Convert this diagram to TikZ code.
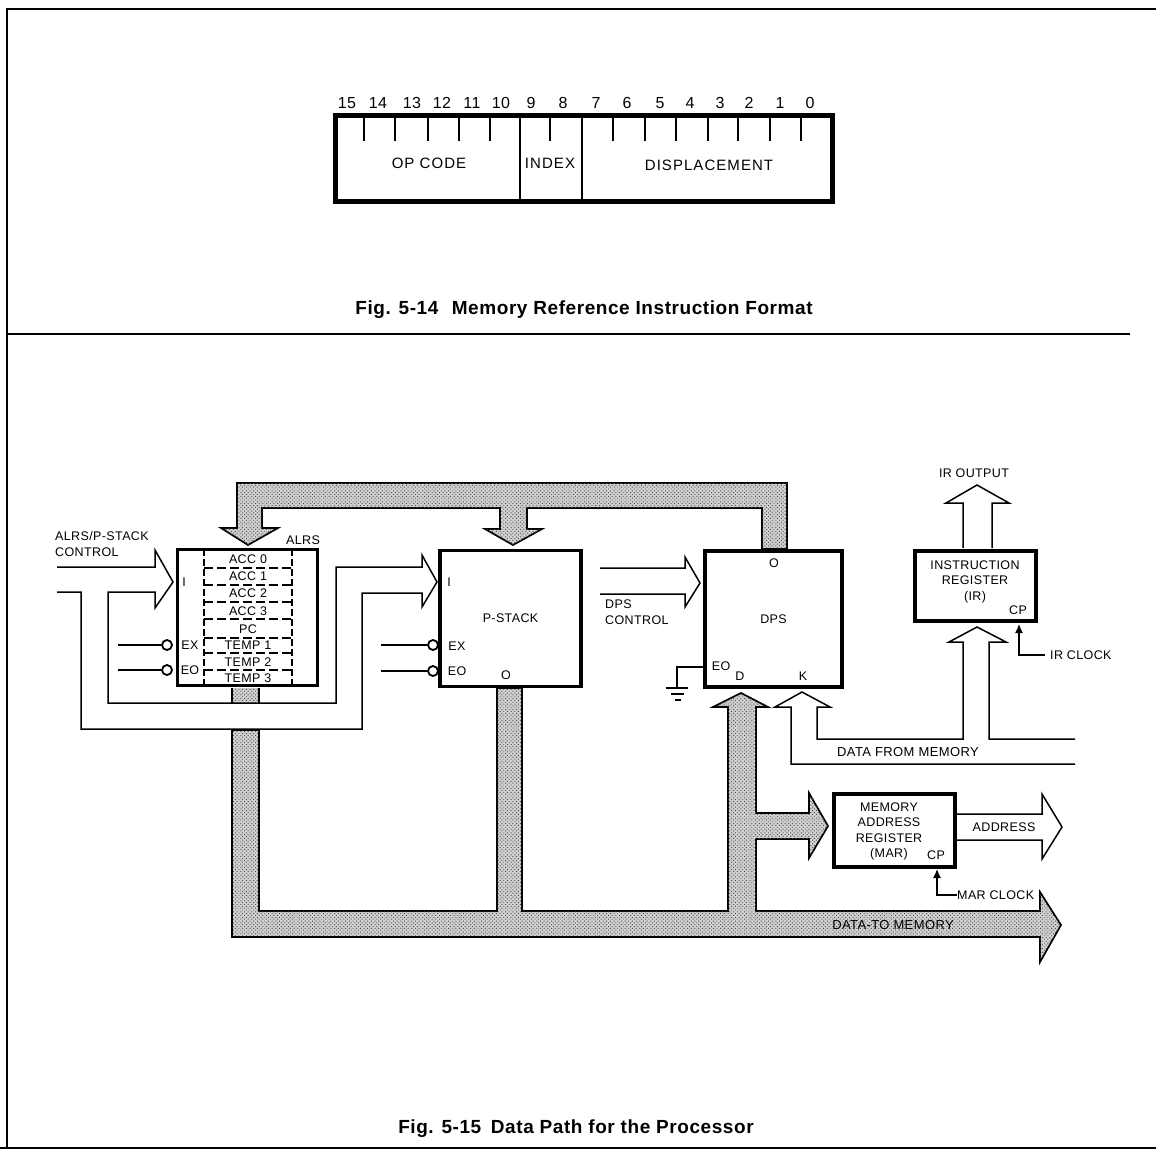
\documentclass[tikz,border=0pt]{standalone}
\usepackage{fontspec}
\setmainfont[LetterSpace=3]{Liberation Sans}
\usetikzlibrary{arrows.meta,patterns.meta}

\begin{document}
\begin{tikzpicture}[x=1pt,y=-1pt,
  every node/.style={font=\fontsize{12.5}{15.5}\selectfont,inner sep=0pt,align=center},
  regbox/.style={draw,line width=3.8pt,fill=white},
  bus/.style={draw,line width=1.7pt,line join=miter,fill=black!18,
    postaction={pattern={Dots[distance=2.6pt,radius=0.68pt,angle=45]},pattern color=black!70}},
  hollow/.style={draw,line width=1.5pt,line join=miter},
  thinline/.style={draw,line width=1.3pt},
  bubble/.style={circle,draw,line width=1.8pt,minimum size=10pt,fill=white},
  bittext/.style={font=\fontsize{16}{18}\selectfont},
  fieldtext/.style={font=\fontsize{15}{17}\selectfont\addfontfeature{LetterSpace=7}},
  widetext/.style={font=\fontsize{13}{15.5}\selectfont},
  captiontext/.style={font=\fontsize{19}{22}\selectfont\bfseries}]
  \useasboundingbox (0,0) rectangle (1156,1149);

  \draw[line width=1.1pt] (1156,9) -- (7,9) -- (7,1149);
  \draw[line width=1.1pt] (7,334) -- (1130,334);
  \draw[line width=1.1pt] (0,1148) -- (1156,1148);

  \node[regbox,line width=4.6pt,minimum width=497.4pt,minimum height=86.4pt] (format) at (584,158.5) {};
  \draw[line width=2pt] (519.5,116) -- (519.5,201);
  \draw[line width=2pt] (582,116) -- (582,201);
  \foreach \x in {364,395,428,459,490,550,613,645,676,708,738,770,801}
    \draw[line width=1.4pt] (\x,116) -- (\x,141);
  \foreach \x/\bitno in {347/15,378/14,412/13,442/12,472/11,501/10,531/9,563/8,596/7,627/6,660/5,690/4,720/3,749/2,780/1,810/0}
    \node[bittext,anchor=base] (bit\bitno) at (\x,108) {\bitno};
  \node[fieldtext] (opcode) at (429,163) {OP CODE};
  \node[fieldtext] (index) at (550,163) {INDEX};
  \node[fieldtext] (disp) at (709,165) {DISPLACEMENT};
  \node[captiontext] (fig14) at (584,310) {Fig. 5-14\hspace{0.4em} Memory Reference Instruction Format};

  \path[bus] (248,545) -- (278,528) -- (262,528) -- (262,508) -- (500,508) -- (500,529) -- (485,529) -- (513,545)
    -- (542,529) -- (527,529) -- (527,508) -- (762,508) -- (762,549) -- (787,549) -- (787,483) -- (237,483)
    -- (237,528) -- (221,528) -- cycle;
  \path[bus] (741,693) -- (768,707) -- (756,707) -- (756,813) -- (809,813) -- (809,793) -- (828,826) -- (809,858)
    -- (809,839) -- (756,839) -- (756,911) -- (1040,911) -- (1040,892) -- (1061,925) -- (1040,962) -- (1040,937)
    -- (232,937) -- (232,730) -- (259,730) -- (259,911) -- (497,911) -- (497,688) -- (522,688) -- (522,911)
    -- (728,911) -- (728,707) -- (713,707) -- cycle;
  \path[bus,draw=none] (232,688) rectangle (259,703);
  \draw[line width=1.6pt] (232,688) -- (232,703) (259,688) -- (259,703);

  \node[regbox,minimum width=140pt,minimum height=136pt] (alrs) at (247.5,617.5) {};
  \node[regbox,minimum width=141.6pt,minimum height=136pt] (pstack) at (510.5,618.5) {P-STACK};
  \node[regbox,minimum width=137pt,minimum height=136.6pt] (dps) at (773.5,619) {DPS};
  \node[regbox,minimum width=120.6pt,minimum height=69.6pt] (ir) at (975.5,586) {};
  \node[regbox,minimum width=120.6pt,minimum height=72.6pt] (mar) at (894.5,830.5) {};

  \draw[line width=1.5pt,dash pattern=on 7pt off 3pt] (204,549) -- (204,686) (292,549) -- (292,686);
  \foreach \y in {568,585,602,619,638,653,670}
    \draw[line width=1.6pt,dash pattern=on 9pt off 4pt] (204,\y) -- (292,\y);
  \foreach \y/\name/\reg in {559/acc0/ACC 0,576/acc1/ACC 1,593/acc2/ACC 2,611/acc3/ACC 3,629/pc/PC,645/temp1/TEMP 1,662/temp2/TEMP 2,678/temp3/TEMP 3}
    \node (\name) at (248,\y) {\reg};
  \node (alrsname) at (303,540) {ALRS};
  \node (alrsi) at (184,582) {I};
  \node (alrsex) at (190,645) {EX};
  \node (alrseo) at (190,670) {EO};
  \node (pstacki) at (449,582) {I};
  \node (pstackex) at (457,646) {EX};
  \node (pstackeo) at (457,671) {EO};
  \node (pstacko) at (506,675) {O};
  \node (dpso) at (774,563) {O};
  \node (dpseo) at (721,666) {EO};
  \node (dpsd) at (740,676) {D};
  \node (dpsk) at (803,676) {K};

  \node[bubble] (exbubble) at (167,645) {};
  \node[bubble] (eobubble) at (167,670) {};
  \node[bubble] (pexbubble) at (433,645) {};
  \node[bubble] (peobubble) at (433,671) {};
  \coordinate (exin) at (118,645);
  \coordinate (eoin) at (118,670);
  \coordinate (pexin) at (381,645);
  \coordinate (peoin) at (381,671);
  \draw[thinline] (exin) -- (exbubble) (eoin) -- (eobubble) (pexin) -- (pexbubble) (peoin) -- (peobubble);

  \path[hollow] (57,567) -- (155,567) -- (155,550) -- (173,582) -- (155,608) -- (155,592) -- (108,592) -- (108,703)
    -- (336,703) -- (336,567) -- (422,567) -- (422,555) -- (437,582) -- (422,607) -- (422,593) -- (362,593)
    -- (362,729) -- (81,729) -- (81,592) -- (57,592);
  \node[anchor=west,align=left] (alrsctl) at (55,544) {ALRS/P-STACK\\CONTROL};

  \path[hollow] (600,568) -- (685,568) -- (685,557) -- (700,583) -- (685,607) -- (685,594) -- (600,594);
  \node[anchor=west,align=left] (dpsctl) at (605,612) {DPS\\CONTROL};

  \coordinate (gnd) at (677,688);
  \draw[thinline] (dps.west |- 0,667) -| (gnd);
  \draw[thinline] (666,688) -- (688,688) (671,694) -- (684,694);
  \draw[line width=1.8pt] (675,700) -- (681,700);

  \path[hollow] (1075,764) -- (791,764) -- (791,707) -- (775,707) -- (802,692) -- (830,707) -- (817,707) -- (817,739)
    -- (963,739) -- (963,642) -- (949,642) -- (977,627) -- (1006,642) -- (989,642) -- (989,739) -- (1075,739);
  \node[widetext] (datafrom) at (908,752) {DATA FROM MEMORY};

  \path[hollow] (963,548) -- (963,503) -- (946,503) -- (977,485) -- (1009,503) -- (992,503) -- (992,548);
  \node (iroutput) at (974,473) {IR OUTPUT};
  \node (irtext) at (975,581.5) {INSTRUCTION\\REGISTER\\(IR)};
  \node (ircp) at (1018,610) {CP};
  \node[anchor=west] (irclock) at (1050,655) {IR CLOCK};
  \draw[thinline,-{Latex[length=9pt,width=8pt]}] (irclock.west) ++(-5,0) -| (1019,624);

  \path[hollow] (957,814) -- (1042,814) -- (1042,794) -- (1062,827) -- (1042,859) -- (1042,840) -- (957,840);
  \node (address) at (1004,827) {ADDRESS};
  \node (martext) at (889,831.5) {MEMORY\\ADDRESS\\REGISTER\\(MAR)};
  \node (marcp) at (936,855) {CP};
  \node[anchor=west] (marclock) at (957,895) {MAR CLOCK};
  \draw[thinline,-{Latex[length=9pt,width=8pt]}] (marclock.west) -| (937,869);
  \node[widetext] (datato) at (893,925) {DATA-TO MEMORY};

  \node[captiontext] (fig15) at (576,1129) {Fig. 5-15\hspace{0.2em} Data Path for the Processor};
\end{tikzpicture}
\end{document}
